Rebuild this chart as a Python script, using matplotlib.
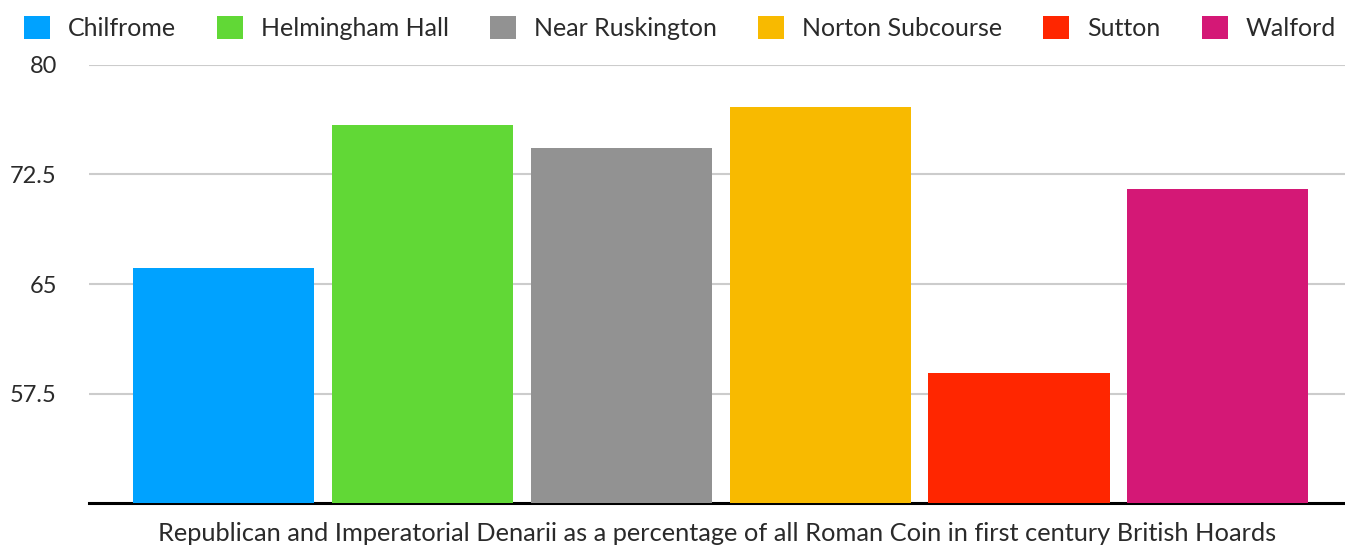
import matplotlib.pyplot as plt
from matplotlib.patches import Patch

hoards = ["Chilfrome", "Helmingham Hall", "Near Ruskington", "Norton Subcourse", "Sutton", "Walford"]
denarii_pct = [66.1, 75.9, 74.3, 77.1, 58.9, 71.5]
colors = ["#00A2FF", "#61D836", "#929292", "#F8BA00", "#FF2600", "#D41876"]
y_ticks = [57.5, 65, 72.5, 80]
y_tick_labels = ["57.5", "65", "72.5", "80"]
x_title = "Republican and Imperatorial Denarii as a percentage of all Roman Coin in first century British Hoards"

plt.rcParams["font.family"] = ["Lato", "DejaVu Sans"]
text_color = "#2a2a2a"

fig = plt.figure(figsize=(13.45, 5.47), dpi=100)
ax = fig.add_axes([0.066, 0.0804, 0.934, 0.8008])

ax.bar(range(len(hoards)), denarii_pct, width=0.911, color=colors, zorder=3)

ax.set_ylim(50, 80)
ax.set_xlim(-0.68, 5.64)
ax.set_yticks(y_ticks)
ax.set_yticklabels(y_tick_labels, fontsize=17, color=text_color)
ax.set_xticks([])
ax.tick_params(axis="y", length=0, pad=23)
ax.yaxis.grid(True, color="#cccccc", linewidth=1.5, zorder=0)

for side in ["top", "right", "left"]:
    ax.spines[side].set_visible(False)
ax.spines["bottom"].set_linewidth(2.2)
ax.spines["bottom"].set_color("black")

ax.set_xlabel(x_title, fontsize=18.3, color=text_color, labelpad=14)

handles = [Patch(facecolor=c, edgecolor="none") for c in colors]
leg = fig.legend(handles, hoards, loc="center left", bbox_to_anchor=(0.0178, 0.9488, 0.9755, 0.0),
                 mode="expand", ncol=6, frameon=False, fontsize=18, handlelength=1.04,
                 handleheight=1.04, handletextpad=0.72, borderaxespad=0, borderpad=0)
for t in leg.get_texts():
    t.set_color(text_color)

fig.savefig("out.png", dpi=100)
